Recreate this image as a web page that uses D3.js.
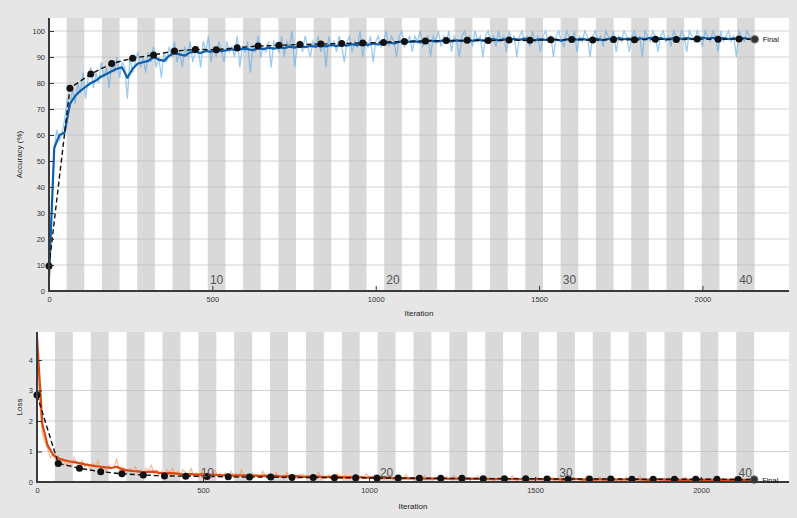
<!DOCTYPE html>
<html><head><meta charset="utf-8">
<script src="https://cdn.jsdelivr.net/npm/d3@7"></script>
<style>body{margin:0;background:#e6e6e6} svg{display:block} text{font-family:"Liberation Sans", Arial, sans-serif}</style>
</head><body>
<svg id="c" width="797" height="518"></svg>
<script>
// ---------- DATA ----------
const itersPerEpoch = 54;
const numEpochs = 40;
const epochLabels = [10, 20, 30, 40];
const xTicks = [0, 500, 1000, 1500, 2000];
const accTicks = [0,10,20,30,40,50,60,70,80,90,100];
const lossTicks = [0,1,2,3,4];

const rawStep = 8;      // iterations between raw samples
const smoothStep = 16;  // iterations between smoothed samples
const valStep = 64;     // validation frequency
const finalIter = 2160;
const finalAcc = 96.8;
const finalLoss = 0.08;

const accRaw = [
 4,30,55,62,58,61,66,74,70,78,
 72,80,76,84,74,82,86,78,84,80,
 88,82,86,78,88,84,90,82,88,86,
 74,90,84,88,92,86,90,84,92,88,
 94,86,90,82,92,88,94,90,96,88,
 92,86,94,90,96,88,92,94,86,96,
 92,98,88,94,90,96,92,88,96,92,
 94,90,98,86,94,92,96,84,94,92,
 98,90,94,92,96,86,96,94,92,98,
 90,96,94,100,86,94,96,92,98,94,
 90,96,94,98,92,96,86,98,94,96,
 92,98,94,88,96,98,92,96,94,100,
 90,96,94,98,88,96,98,94,96,100,
 94,98,96,90,98,100,94,96,98,92,
 98,96,100,94,96,98,90,98,96,100,
 94,98,96,100,92,98,96,90,98,100,
 96,98,94,100,96,98,90,98,100,96,
 98,94,100,96,98,92,100,96,98,90,
 98,100,96,98,94,100,96,98,92,98,
 100,96,98,90,98,100,96,94,100,98,
 96,100,92,98,96,100,98,90,98,100,
 96,98,94,100,98,96,100,92,98,96,
 100,98,92,98,100,96,98,90,100,98,
 96,100,98,92,98,100,96,98,94,100,
 98,96,100,98,92,100,98,96,100,98,
 94,100,98,96,100,98,92,100,96,98,
 100,96,98,90,100,98,96,100,98,96,
 98
];

const accSmooth = [
 5,55,60,61,72,75,77,78.5,
 80,81,82.5,83.5,84.5,85.5,86,82,
 85.5,87.5,88,88.5,90,89,88.5,90.5,
 91.5,91,90.5,91.8,92,91.5,92.3,92,
 92.8,92.2,92.6,93,92.5,93.2,93,92.6,
 93.4,93,93.6,93.2,93.8,93.4,94,93.6,
 94.2,93.8,94.3,94,94.5,94.1,94.6,94.2,
 94.8,94.4,94.9,94.5,95,94.6,95.2,94.8,
 95.3,95.6,95.2,95.8,96.2,95.8,96,95.6,
 96.1,96.3,95.9,96.2,96.5,96,96.4,96.1,
 96.6,96.2,96.7,96.3,96.6,96.9,96.4,96.8,
 96.5,97,96.6,97.1,96.8,96.4,96.9,96.6,
 97,96.7,96.3,96.8,97.1,96.7,97,96.6,
 97.2,96.9,96.5,97,96.8,97.3,96.9,97.1,
 96.7,97.2,96.9,97.4,97,97.3,96.8,97.1,
 97.4,97,97.3,96.9,97.2,97.5,97.1,97.4,
 97,97.3,96.9,97.2,97,97.3,96.9,97.1
];

const accVal = [9.6,78,83.5,87.5,89.5,90.8,92.3,92.9,92.8,93.6,94.2,94.5,94.8,95,95.2,95.4,95.6,96,96.2,96.3,96.4,96.3,96.5,96.4,96.6,96.7,96.5,96.7,96.6,96.8,96.7,96.9,96.8,96.9];

const lossRaw = [
 4.8,2.6,1.6,1.3,1.1,0.8,0.9,0.7,0.85,0.6,
 0.75,0.55,0.7,0.5,0.8,0.6,0.45,0.7,0.5,0.6,
 0.4,0.6,0.5,0.7,0.4,0.5,0.35,0.55,0.45,0.5,
 0.75,0.35,0.5,0.4,0.3,0.45,0.35,0.5,0.3,0.4,
 0.25,0.45,0.35,0.55,0.3,0.4,0.25,0.35,0.2,0.4,
 0.3,0.45,0.25,0.35,0.2,0.4,0.3,0.25,0.45,0.2,
 0.3,0.15,0.35,0.2,0.3,0.15,0.25,0.4,0.2,0.28,
 0.2,0.3,0.12,0.35,0.22,0.28,0.15,0.4,0.2,0.25,
 0.12,0.3,0.2,0.25,0.15,0.35,0.18,0.22,0.25,0.1,
 0.3,0.18,0.2,0.08,0.32,0.2,0.15,0.25,0.1,0.22,
 0.25,0.15,0.2,0.1,0.22,0.18,0.32,0.1,0.2,0.15,
 0.22,0.1,0.18,0.28,0.15,0.1,0.22,0.15,0.2,0.06,
 0.22,0.15,0.18,0.1,0.28,0.15,0.1,0.2,0.15,0.06,
 0.18,0.1,0.15,0.22,0.1,0.05,0.18,0.14,0.1,0.24,
 0.08,0.14,0.05,0.18,0.12,0.1,0.22,0.08,0.14,0.05,
 0.16,0.08,0.12,0.04,0.17,0.09,0.12,0.22,0.08,0.05,
 0.12,0.08,0.16,0.04,0.12,0.08,0.2,0.07,0.05,0.12,
 0.07,0.15,0.04,0.12,0.08,0.16,0.05,0.11,0.07,0.2,
 0.08,0.04,0.12,0.07,0.16,0.04,0.11,0.07,0.15,0.08,
 0.04,0.12,0.07,0.2,0.08,0.04,0.12,0.15,0.04,0.08,
 0.11,0.04,0.16,0.08,0.12,0.04,0.07,0.2,0.08,0.04,
 0.12,0.07,0.16,0.04,0.08,0.11,0.04,0.15,0.07,0.1,
 0.04,0.08,0.15,0.07,0.04,0.11,0.07,0.2,0.04,0.08,
 0.11,0.04,0.07,0.15,0.07,0.04,0.11,0.07,0.14,0.04,
 0.07,0.11,0.04,0.08,0.15,0.04,0.07,0.1,0.04,0.07,
 0.14,0.04,0.07,0.11,0.04,0.07,0.15,0.04,0.1,0.07,
 0.04,0.1,0.07,0.18,0.04,0.07,0.1,0.04,0.07,0.1,
 0.07
];

const lossSmooth = [
 4.75,1.9,1.2,0.9,0.78,0.72,0.68,0.65,
 0.62,0.58,0.55,0.52,0.5,0.48,0.46,0.5,
 0.42,0.38,0.36,0.35,0.32,0.33,0.34,0.3,
 0.28,0.29,0.28,0.26,0.25,0.26,0.24,0.25,
 0.23,0.24,0.23,0.22,0.23,0.21,0.22,0.22,
 0.2,0.21,0.2,0.21,0.19,0.2,0.18,0.19,
 0.18,0.19,0.17,0.18,0.17,0.18,0.16,0.17,
 0.16,0.17,0.15,0.16,0.15,0.16,0.14,0.15,
 0.14,0.13,0.14,0.13,0.12,0.13,0.12,0.13,
 0.12,0.11,0.12,0.11,0.12,0.11,0.1,0.11,
 0.11,0.1,0.11,0.1,0.11,0.1,0.09,0.1,
 0.1,0.09,0.1,0.09,0.1,0.09,0.1,0.09,
 0.09,0.1,0.09,0.08,0.09,0.1,0.09,0.08,
 0.09,0.08,0.09,0.08,0.09,0.08,0.09,0.08,
 0.08,0.09,0.08,0.07,0.08,0.09,0.08,0.07,
 0.08,0.07,0.08,0.07,0.08,0.07,0.08,0.07,
 0.07,0.08,0.07,0.08,0.07,0.06,0.07,0.07
];

const lossVal = [2.85,0.61,0.45,0.34,0.27,0.23,0.2,0.19,0.18,0.17,0.16,0.16,0.15,0.15,0.14,0.14,0.13,0.13,0.12,0.12,0.12,0.11,0.11,0.11,0.1,0.1,0.1,0.1,0.09,0.09,0.09,0.09,0.09,0.08];

// ---------- DRAW ----------
const svg = d3.select('#c');
svg.append('rect').attr('width',797).attr('height',518).attr('fill','#e6e6e6');
const defs = svg.append('defs');
defs.append('filter').attr('id','haze').attr('x','-5%').attr('y','-20%').attr('width','110%').attr('height','140%')
  .append('feGaussianBlur').attr('stdDeviation',0.7);
const labels = [];

function panel(o){
  const g = svg.append('g');
  const x = d3.scaleLinear().domain([0, 2265]).range([o.left, o.right]);
  const y = d3.scaleLinear().domain(o.yDomain).range([o.bottom, o.top]);
  g.append('rect').attr('x',o.left).attr('y',o.top).attr('width',o.right-o.left).attr('height',o.bottom-o.top).attr('fill','#ffffff');
  const epochs = d3.range(1, numEpochs+1).filter(e => e % 2 === 0);
  g.selectAll('rect.band').data(epochs).join('rect').attr('class','band')
    .attr('x', e => x((e-1)*itersPerEpoch)).attr('width', e => x(e*itersPerEpoch)-x((e-1)*itersPerEpoch))
    .attr('y', o.top).attr('height', o.bottom-o.top).attr('fill','#d9d9d9');
  g.selectAll('line.grid').data(o.yTicks.filter(t=>t>0)).join('line').attr('class','grid')
    .attr('x1',o.left).attr('x2',o.right).attr('y1',d=>y(d)).attr('y2',d=>y(d))
    .attr('stroke','#bdbdbd').attr('stroke-opacity',0.7).attr('stroke-width',1);
  const cid = 'clip'+o.id;
  defs.append('clipPath').attr('id',cid).append('rect').attr('x',o.left).attr('y',o.top-2).attr('width',x(finalIter)-o.left+1).attr('height',o.bottom-o.top+2);
  const d = g.append('g').attr('clip-path',`url(#${cid})`);
  const line = d3.line().x(p=>x(p[0])).y(p=>y(p[1]));
  d.append('path').datum(o.raw.map((v,i)=>[i*rawStep, v])).attr('d',line)
    .attr('fill','none').attr('stroke',o.rawColor).attr('stroke-width',1.3).attr('stroke-opacity',0.6)
    .attr('filter','url(#haze)');
  d.append('path').datum(o.smooth.map((v,i)=>[i*smoothStep, v])).attr('d',line)
    .attr('fill','none').attr('stroke',o.smoothColor).attr('stroke-width',2.2).attr('stroke-linejoin','round');
  const vpts = o.val.map((v,i)=>[i*valStep, v]);
  const dg = g.append('g');
  dg.append('path').datum(vpts.concat([[finalIter, o.final]])).attr('d',line)
    .attr('fill','none').attr('stroke','#111').attr('stroke-width',1.4).attr('stroke-dasharray','5,3');
  dg.selectAll('circle.v').data(vpts).join('circle').attr('class','v')
    .attr('cx',p=>x(p[0])).attr('cy',p=>y(p[1])).attr('r',3.5).attr('fill','#111');
  dg.append('circle').attr('cx',x(finalIter)).attr('cy',y(o.final)).attr('r',3.8)
    .attr('fill','#333').attr('stroke','#777').attr('stroke-width',1);
  labels.push({x:x(finalIter)+8, y:y(o.final)+3});
  const ya = g.append('g').attr('transform',`translate(${o.left},0)`)
    .call(d3.axisLeft(y).tickValues(o.yTicks).tickSize(-5).tickSizeOuter(0).tickPadding(4).tickFormat(d3.format('d')));
  ya.select('.domain').remove();
  ya.selectAll('line').attr('stroke','#333');
  ya.selectAll('text').attr('font-size',7.5).attr('fill','#333').attr('font-family','"Liberation Sans", Arial, sans-serif');
  const xa = g.append('g').attr('transform',`translate(0,${o.bottom})`)
    .call(d3.axisBottom(x).tickValues(xTicks).tickSize(-5).tickSizeOuter(0).tickPadding(6).tickFormat(d3.format('d')));
  xa.select('.domain').remove();
  xa.selectAll('line').attr('stroke','#333');
  xa.selectAll('text').attr('font-size',7.5).attr('fill','#333').attr('font-family','"Liberation Sans", Arial, sans-serif');
  g.append('line').attr('x1',o.left).attr('x2',o.left).attr('y1',o.top).attr('y2',o.bottom+1).attr('stroke','#3a3a3a').attr('stroke-width',2);
  g.append('line').attr('x1',o.left-1).attr('x2',o.right).attr('y1',o.bottom).attr('y2',o.bottom).attr('stroke','#3a3a3a').attr('stroke-width',2);
  g.selectAll('text.ep').data(epochLabels).join('text').attr('class','ep')
    .attr('x', e => x((e-0.5)*itersPerEpoch)).attr('y', o.bottom - o.epOffset)
    .attr('text-anchor','middle').attr('font-size',12).attr('fill','#555').text(e=>e);
  g.append('text').attr('x',(o.left+o.right)/2).attr('y',o.bottom+o.xlabOff).attr('text-anchor','middle')
    .attr('font-size',8).attr('fill','#222').text('Iteration');
  g.append('text').attr('transform',`translate(${o.ylabX},${(o.top+o.bottom)/2}) rotate(-90)`).attr('text-anchor','middle')
    .attr('font-size',8).attr('fill','#222').text(o.ylabel);
}

panel({id:'a', left:49, right:789, top:18, bottom:291, yDomain:[0,105], yTicks:accTicks,
  raw:accRaw, smooth:accSmooth, val:accVal, final:finalAcc,
  rawColor:'#5aa8e6', smoothColor:'#0b5fb0', ylabel:'Accuracy (%)', ylabX:22, xlabOff:25, epOffset:7});
panel({id:'b', left:37, right:789, top:332, bottom:482, yDomain:[0,4.92], yTicks:lossTicks,
  raw:lossRaw, smooth:lossSmooth, val:lossVal, final:finalLoss,
  rawColor:'#f5915a', smoothColor:'#d9480f', ylabel:'Loss', ylabX:22, xlabOff:27, epOffset:5});

svg.append('g').selectAll('text').data(labels).join('text')
  .attr('x',p=>p.x).attr('y',p=>p.y).attr('font-size',7.5).attr('fill','#111').text('Final');
</script>
</body></html>
